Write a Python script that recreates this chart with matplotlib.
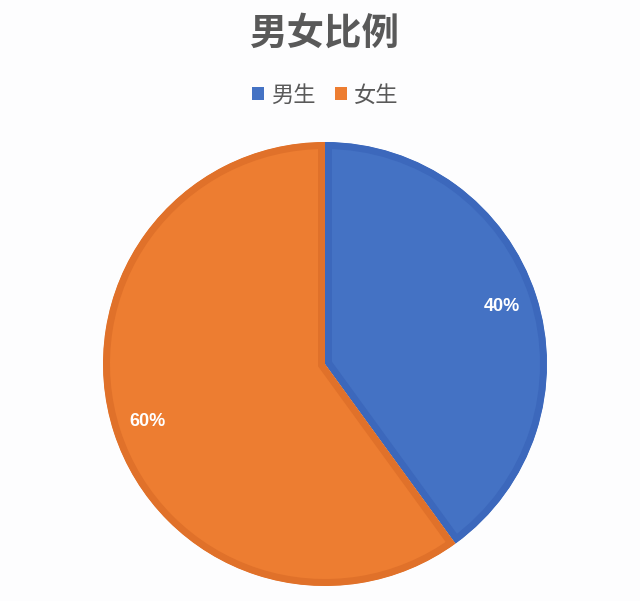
import matplotlib
matplotlib.use("Agg")
import matplotlib.pyplot as plt
from matplotlib.patches import Patch

plt.rcParams['font.family'] = ['Noto Sans CJK SC', 'DejaVu Sans']

categories = ['男生', '女生']
values = [40, 60]
fill_colors = ['#4472C4', '#ED7D31']
edge_colors = ['#3C68BC', '#E0712A']
title = '男女比例'

W, H = 640, 601
fig = plt.figure(figsize=(W / 100, H / 100), dpi=100)
fig.patch.set_facecolor('#FDFDFE')

cx, cy, R = 325, 364, 222
ax = fig.add_axes([(cx - R) / W, (H - cy - R) / H, 2 * R / W, 2 * R / H])

band_px = 7
wedges, texts, autotexts = ax.pie(
    values, colors=fill_colors, startangle=90, counterclock=False,
    radius=1.0, autopct='%d%%', pctdistance=0.84,
    wedgeprops=dict(linewidth=2 * band_px * 0.72, joinstyle='miter'),
    textprops=dict(color='white', fontsize=13, fontweight='bold',
                   family=['Liberation Sans', 'DejaVu Sans']))
for w, ec in zip(wedges, edge_colors):
    w.set_edgecolor(ec)
    w.set_clip_on(True)
    w.set_clip_path(w)
ax.set_xlim(-1, 1)
ax.set_ylim(-1, 1)
ax.set_aspect('equal')
ax.axis('off')

fig.text(0.508, 1 - 33 / H, title, ha='center', va='center', fontsize=27,
         fontweight='bold', color='#595959')

handles = [Patch(facecolor=c, edgecolor='none') for c in fill_colors]
fig.legend(handles, categories, loc='center', bbox_to_anchor=(0.508, 1 - 95 / H),
           ncol=2, frameon=False, fontsize=16, handlelength=0.55, handleheight=0.55,
           handletextpad=0.3, columnspacing=0.9, labelcolor='#595959')

fig.savefig('out.png', dpi=100, facecolor=fig.get_facecolor())
